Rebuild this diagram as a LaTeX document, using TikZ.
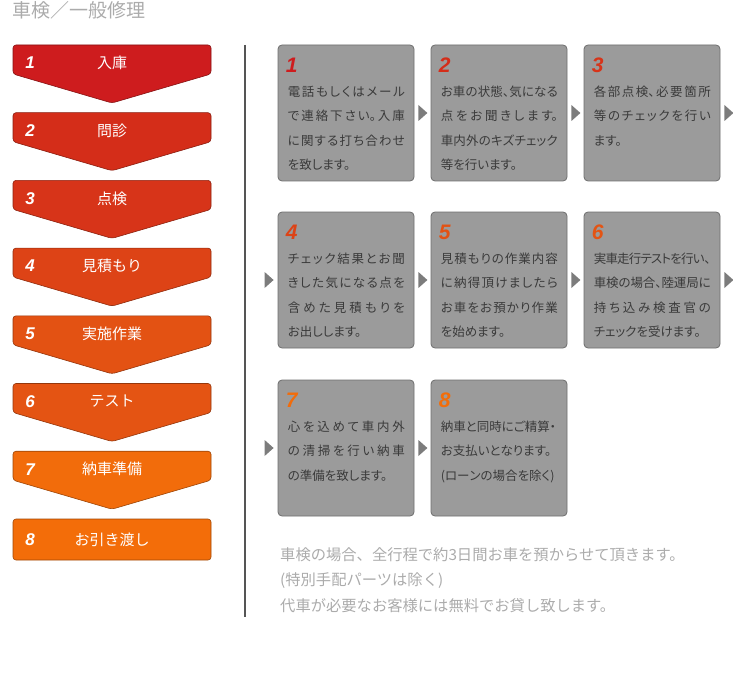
\documentclass[tikz,border=0pt]{standalone}
\usepackage{fontspec}
\setmainfont{Noto Sans CJK JP}
\newfontfamily\jpbox{Noto Sans CJK JP}[RawFeature=+palt]
\newfontfamily\numfont{Liberation Sans}
\usetikzlibrary{calc,positioning}
\definecolor{stepa}{HTML}{CE1C1E}
\definecolor{stepb}{HTML}{D42D19}
\definecolor{stepc}{HTML}{D73419}
\definecolor{stepd}{HTML}{DD4316}
\definecolor{stepe}{HTML}{E35213}
\definecolor{stepf}{HTML}{E45413}
\definecolor{stepg}{HTML}{F26C0B}
\definecolor{steph}{HTML}{F36D09}
\definecolor{boxgrey}{HTML}{9B9B9B}
\definecolor{boxedge}{HTML}{6E6E6E}
\definecolor{boxtext}{HTML}{3A3A3A}
\definecolor{markgrey}{HTML}{7C7C7C}
\definecolor{ruleline}{HTML}{555555}
\definecolor{faint}{HTML}{ABABAB}
\XeTeXlinebreaklocale "ja"
\XeTeXlinebreakskip=0pt plus 3pt minus 1.2pt

\begin{document}
\begin{tikzpicture}[x=1pt,y=-1pt,
  steplabel/.style={text=white,inner sep=0pt,font=\fontsize{15}{15}\selectfont},
  stepnum/.style={text=white,inner sep=0pt,font=\numfont\bfseries\itshape\fontsize{17}{17}\selectfont},
  infobox/.style={draw=boxedge,fill=boxgrey,line width=0.8pt,rounded corners=4pt,
    minimum width=136pt,minimum height=136pt,inner sep=0pt},
  infonum/.style={anchor=base west,inner sep=0pt,font=\numfont\bfseries\itshape\fontsize{21}{21}\selectfont},
  infotext/.style={anchor=north west,inner sep=0pt,text width=117pt,align=justify,
    text=boxtext,font=\jpbox\fontsize{12.5}{24.5}\selectfont},
  nextmark/.style={fill=markgrey}]
\useasboundingbox (0,0) rectangle (733,695);

% title
\node[anchor=west,inner sep=0pt,text=faint,font=\fontsize{19}{19}\selectfont] (title) at (12,10) {車検／一般修理};

% left flow
\foreach \k/\top/\col/\lbl in {1/45/stepa/入庫,2/112.7/stepb/問診,3/180.4/stepc/点検,
    4/248.1/stepd/見積もり,5/315.8/stepe/実施作業,6/383.5/stepf/テスト,7/451.2/stepg/納車準備} {
  \draw[\col!65!black,fill=\col,line width=0.6pt,rounded corners=3pt]
    (13,\top) -- (211,\top) -- (211,\top+29) -- (112,\top+58) -- (13,\top+29) -- cycle;
  \node[stepnum] (s\k num) at (30,\top+18) {\k};
  \node[steplabel] (s\k) at (112,\top+18) {\lbl};
}
\draw[steph!65!black,fill=steph,line width=0.6pt,rounded corners=3pt] (13,519) rectangle (211,560);
\node[stepnum] (s8num) at (30,540) {8};
\node[steplabel] (s8) at (112,540) {お引き渡し};

% divider
\coordinate (ruletop) at (245,45);
\coordinate (rulebot) at (245,617);
\draw[ruleline,line width=2pt] (ruletop) -- (rulebot);

% detail boxes
\foreach \n/\cx/\cy/\col in {1/346/113/stepa,2/499/113/stepb,3/652/113/stepc,
    4/346/280/stepd,5/499/280/stepe,6/652/280/stepf,7/346/448/stepg,8/499/448/steph} {
  \node[infobox] (b\n) at (\cx,\cy) {};
  \node[infonum,text=\col] (b\n num) at ($(b\n.north west)+(8,28)$) {\n};
}
\node[infotext] (t1) at ($(b1.north west)+(10,41)$) {電話もしくはメール\linebreak で連絡下さい。入庫\linebreak に関する打ち合わせ\linebreak を致します。};
\node[infotext] (t2) at ($(b2.north west)+(10,41)$) {お車の状態、気になる\linebreak 点をお聞きします。\linebreak 車内外のキズチェック\linebreak 等を行います。};
\node[infotext] (t3) at ($(b3.north west)+(10,41)$) {各部点検、必要箇所\linebreak 等のチェックを行い\linebreak ます。};
\node[infotext] (t4) at ($(b4.north west)+(10,41)$) {チェック結果とお聞\linebreak きした気になる点を\linebreak 含めた見積もりを\linebreak お出しします。};
\node[infotext] (t5) at ($(b5.north west)+(10,41)$) {見積もりの作業内容\linebreak に納得頂けましたら\linebreak お車をお預かり作業\linebreak を始めます。};
\node[infotext] (t6) at ($(b6.north west)+(10,41)$) {実車走行テストを行い、\linebreak 車検の場合、陸運局に\linebreak 持ち込み検査官の\linebreak チェックを受けます。};
\node[infotext] (t7) at ($(b7.north west)+(10,41)$) {心を込めて車内外\linebreak の清掃を行い納車\linebreak の準備を致します。};
\node[infotext] (t8) at ($(b8.north west)+(10,41)$) {納車と同時にご精算・\newline お支払いとなります。\newline (ローンの場合を除く)};

% next marks
\foreach \a in {b1,b2,b3,b4,b5,b6,b7}
  \fill[nextmark] ($(\a.east)+(4,-8)$) -- ++(9,8) -- ++(-9,8) -- cycle;
\foreach \a in {b4,b7}
  \fill[nextmark] ($(\a.west)+(-13,-8)$) -- ++(9,8) -- ++(-9,8) -- cycle;

% note
\node[anchor=north west,inner sep=0pt,align=left,text=faint,font=\fontsize{15.3}{25.5}\selectfont] (note) at (280,547)
  {車検の場合、全行程で約3日間お車を預からせて頂きます。\\(特別手配パーツは除く)\\代車が必要なお客様には無料でお貸し致します。};
\end{tikzpicture}
\end{document}
